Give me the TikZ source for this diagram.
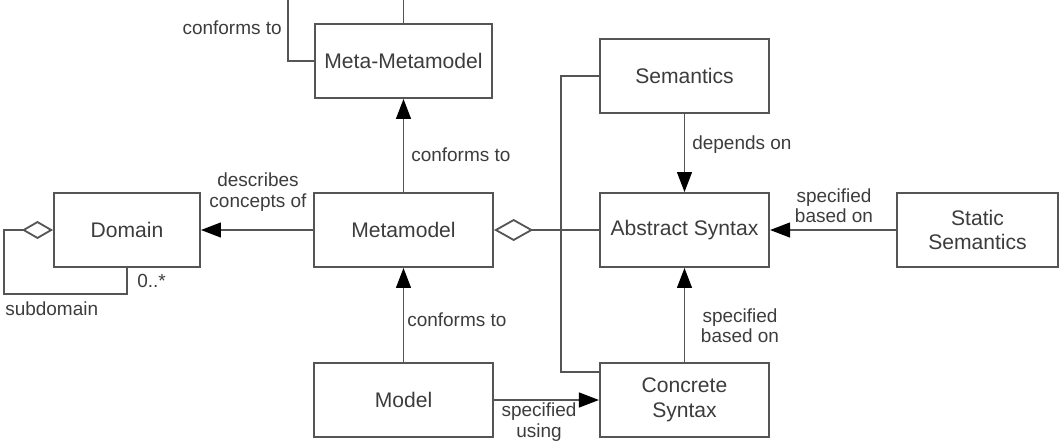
\documentclass[tikz,border=0pt]{standalone}
\usepackage{fontspec}
\setmainfont{Liberation Sans}
\usetikzlibrary{calc,arrows.meta}
\definecolor{wire}{HTML}{555555}
\definecolor{ink}{HTML}{3C3C3C}
\tikzset{
  box/.style={draw=wire, line width=1.3pt, minimum height=1.85cm, inner sep=0pt,
    text=ink, align=center, font=\fontsize{15}{17.5}\selectfont},
  conn/.style={draw=wire, line width=1.3pt},
  arr/.style={conn, -{Triangle[length=0.5cm, width=0.37cm, black]}},
  aggs/.style={conn, -{Diamond[open, length=0.78cm, width=0.45cm]}},
  aggb/.style={conn, -{Diamond[open, length=0.98cm, width=0.55cm]}},
  lab/.style={text=ink, inner sep=0pt, align=center, font=\fontsize{13.5}{14.5}\selectfont}
}

\begin{document}
\begin{tikzpicture}[x=0.025cm, y=-0.025cm]
  \clip (0,0) rectangle (1060,442);

  \node[box, minimum width=4.43cm] (metameta) at (403.5,61) {Meta-Metamodel};
  \node[box, minimum width=3.65cm] (domain) at (127,230) {Domain};
  \node[box, minimum width=4.48cm] (meta) at (403.5,230) {Metamodel};
  \node[box, minimum width=4.48cm] (model) at (403.5,400) {Model};
  \node[box, minimum width=4.23cm] (sem) at (684.5,76) {Semantics};
  \node[box, minimum width=4.23cm] (abstr) at (684.5,230) {Abstract Syntax};
  \node[box, minimum width=4.03cm] (static) at (977.5,230) {Static\\Semantics};
  \node[box, minimum width=4.23cm] (concr) at (684.5,400) {Concrete\\Syntax};

  % self references
  \draw[conn] (metameta.west) -- (288,61) -- (288,-20) -| (metameta.north);
  \draw[aggs] (domain.south) -- ++(0,26) -| (4,230) -- (domain.west);

  \draw[arr] (meta) -- (metameta);
  \draw[arr] (meta) -- (domain);
  \draw[arr] (model) -- (meta);
  \draw[arr] (model) -- (concr);
  \draw[aggb] (abstr) -- (meta);
  \draw[arr] (sem) -- (abstr);
  \draw[arr] (static) -- (abstr);
  \draw[arr] (concr) -- (abstr);
  \draw[conn] (sem.west) -- (561,76) |- ($(concr.north west)+(0,10)$);

  \node[lab, anchor=east] (l1) at (282,28) {conforms to};
  \node[lab, anchor=west] (l2) at (411,155) {conforms to};
  \node[lab] (l3) at (258,192) {describes\\concepts of};
  \node[lab, anchor=west] (l4) at (137,281) {0..*};
  \node[lab, anchor=west] (l5) at (5,309) {subdomain};
  \node[lab, anchor=west] (l6) at (407,320) {conforms to};
  \node[lab, anchor=west] (l7) at (692,145) {depends on};
  \node[lab] (l8) at (834,206) {specified\\based on};
  \node[lab] (l9) at (740,326) {specified\\based on};
  \node[lab] (l10) at (539,422) {specified\\using};
\end{tikzpicture}
\end{document}
